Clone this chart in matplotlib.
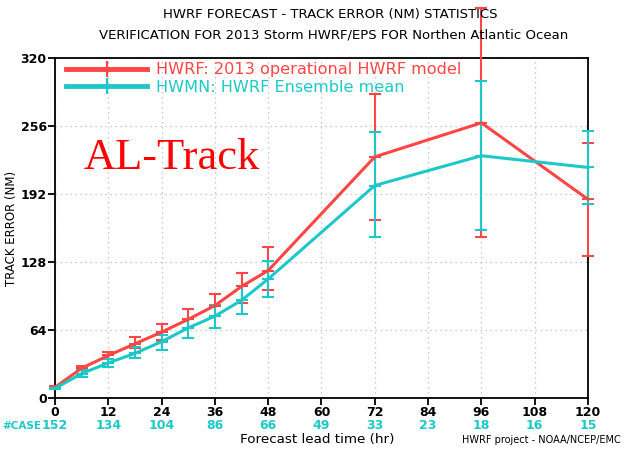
import matplotlib
matplotlib.use("Agg")
import matplotlib.pyplot as plt
from matplotlib.lines import Line2D

# forecast lead times (hr) and mean track errors (NM) with error bar limits
lead = [0, 6, 12, 18, 24, 30, 36, 42, 48, 72, 96, 120]

hwrf = [10, 28, 40, 51, 62, 74, 87, 105, 120, 227, 259, 187]
hwrf_lo = [9, 26, 37, 47, 55, 66, 77, 89, 102, 168, 152, 134]
hwrf_hi = [11, 30, 43, 57, 70, 84, 98, 118, 142, 286, 367, 240]

hwmn = [9, 23, 33, 42, 53, 66, 77, 92, 112, 200, 228, 217]
hwmn_lo = [8, 20, 29, 38, 45, 56, 66, 79, 95, 152, 158, 183]
hwmn_hi = [10, 26, 37, 48, 59, 74, 88, 105, 129, 250, 298, 251]

case_hours = [0, 12, 24, 36, 48, 60, 72, 84, 96, 108, 120]
cases = [152, 134, 104, 86, 66, 49, 33, 23, 18, 16, 15]

red = '#ff4646'
cyan = '#1fc8c8'

fig = plt.figure(figsize=(6.24, 4.63), dpi=100)
ax = fig.add_axes([0.0881, 0.1404, 0.8542, 0.7343])


def draw(ys, lo, hi, color):
    yerr = [[y - l for y, l in zip(ys, lo)], [h - y for y, h in zip(ys, hi)]]
    eb = ax.errorbar(lead, ys, yerr=yerr, color=color, lw=2.2, elinewidth=1.5,
                     capsize=4, capthick=1.5, marker='_', ms=9, mew=1.5,
                     zorder=3)
    for part in eb.get_children():
        part.set_clip_on(False)


draw(hwrf, hwrf_lo, hwrf_hi, red)
draw(hwmn, hwmn_lo, hwmn_hi, cyan)

ax.set_xlim(0, 120)
ax.set_ylim(0, 320)
ax.set_xticks(range(0, 121, 12))
ax.set_yticks(range(0, 321, 64))
ax.grid(True, ls=(0, (1, 3)), color='#bbbbbb', lw=0.9)
ax.set_axisbelow(True)
for s in ax.spines.values():
    s.set_linewidth(1.3)
ax.tick_params(direction='out', length=5, width=1.3, labelsize=9, pad=1)
for lab in ax.get_xticklabels() + ax.get_yticklabels():
    lab.set_fontweight('bold')

ax.set_ylabel('TRACK ERROR (NM)', fontsize=8.5)
ax.yaxis.set_label_coords(-0.069, 0.5)

# number of cases under each 12 h tick
for h, n in zip(case_hours, cases):
    ax.text(h, -26, str(n), color=cyan, fontsize=9, fontweight='bold',
            ha='center', va='center', clip_on=False)
ax.text(-3.2, -26, '#CASE', color=cyan, fontsize=7.5, fontweight='bold',
        ha='right', va='center', clip_on=False)

fig.text(0.508, 0.05, 'Forecast lead time (hr)', fontsize=9.7,
         ha='center', va='center')
fig.text(0.995, 0.05, 'HWRF project - NOAA/NCEP/EMC', fontsize=7,
         ha='right', va='center')

fig.text(0.53, 0.968, 'HWRF FORECAST - TRACK ERROR (NM) STATISTICS',
         fontsize=9.5, ha='center', va='center')
fig.text(0.534, 0.925, 'VERIFICATION FOR 2013 Storm HWRF/EPS FOR Northen Atlantic Ocean',
         fontsize=9.5, ha='center', va='center')

# legend
handles = [Line2D([], [], color=red, lw=3.5, marker='+', ms=12, mew=1.6),
           Line2D([], [], color=cyan, lw=3.5, marker='+', ms=12, mew=1.6)]
leg = ax.legend(handles, ['HWRF: 2013 operational HWRF model',
                          'HWMN: HWRF Ensemble mean'],
                loc='upper left', bbox_to_anchor=(0.0, 1.02), frameon=False,
                fontsize=11.6, handlelength=5.0, handletextpad=0.6,
                labelspacing=0.15, borderaxespad=0.3)
for txt, c in zip(leg.get_texts(), [red, cyan]):
    txt.set_color(c)

ax.text(0.053, 0.675, 'AL-Track', transform=ax.transAxes, color='red',
        fontsize=32, family='Liberation Serif', ha='left', va='baseline')

fig.savefig('out.png', dpi=100)
